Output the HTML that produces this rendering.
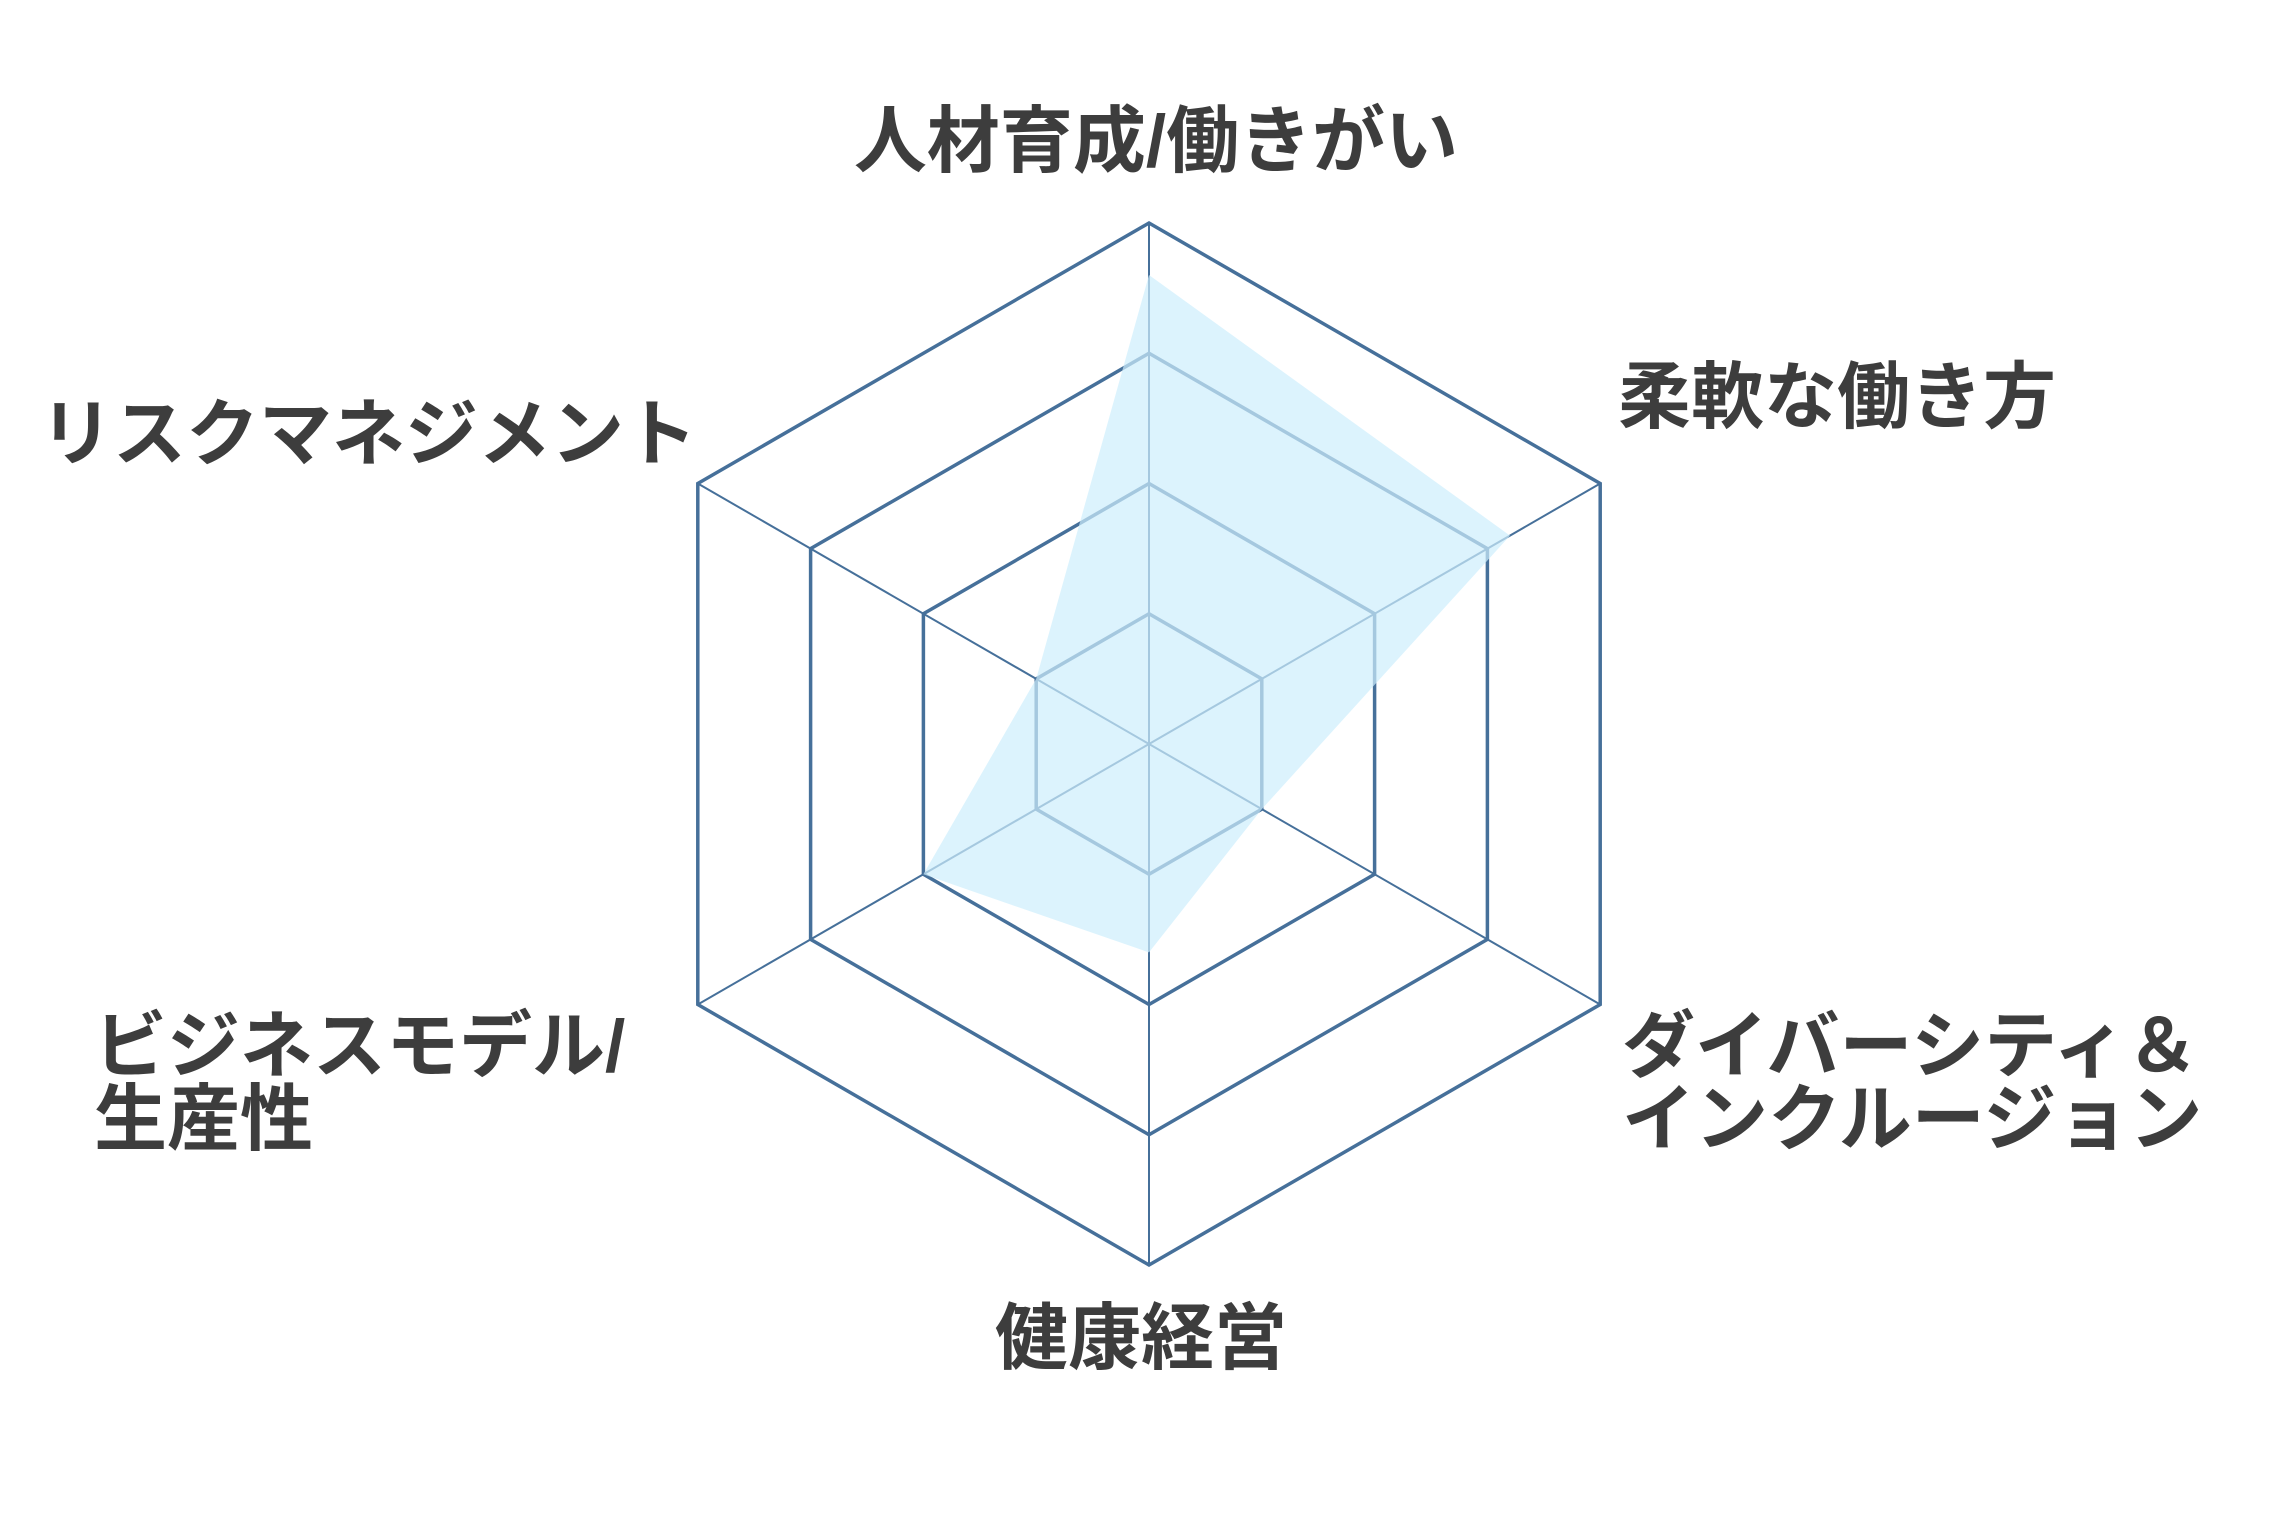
<!DOCTYPE html>
<html><head><meta charset="utf-8"><style>
html,body{margin:0;padding:0;background:#fff;}
body{width:2285px;height:1536px;position:relative;overflow:hidden;}
.t{position:absolute;font-family:"Liberation Sans","Noto Sans CJK JP",sans-serif;font-weight:bold;font-size:73px;line-height:73px;color:#3d3d3d;white-space:nowrap;}
svg{position:absolute;left:0;top:0;}
</style></head><body>
<svg width="2285" height="1536" viewBox="0 0 2285 1536">
<g fill="none" stroke="#46709a" stroke-linejoin="miter">
<polygon stroke-width="3.5" points="1149,223 1600.2,483.5 1600.2,1004.5 1149,1265 697.8,1004.5 697.8,483.5"/>
<polygon stroke-width="3.5" points="1149,353.25 1487.4,548.6 1487.4,939.4 1149,1134.75 810.6,939.4 810.6,548.6"/>
<polygon stroke-width="3.5" points="1149,483.5 1374.6,613.75 1374.6,874.25 1149,1004.5 923.4,874.25 923.4,613.75"/>
<polygon stroke-width="3.5" points="1149,613.75 1261.8,678.9 1261.8,809.1 1149,874.25 1036.2,809.1 1036.2,678.9"/>
<g stroke-width="2">
<line x1="1149" y1="744" x2="1149" y2="223"/>
<line x1="1149" y1="744" x2="1600.2" y2="483.5"/>
<line x1="1149" y1="744" x2="1600.2" y2="1004.5"/>
<line x1="1149" y1="744" x2="1149" y2="1265"/>
<line x1="1149" y1="744" x2="697.8" y2="1004.5"/>
<line x1="1149" y1="744" x2="697.8" y2="483.5"/>
</g>
</g>
<polygon fill="#cdeefc" fill-opacity="0.7" points="1149,275 1510,535.6 1261.8,809.1 1149,952.4 923.4,874.3 1036.2,678.9"/>
</svg>
<div class="t" style="left:830px;top:105px;width:652px;text-align:center;">人材育成/働きがい</div>
<div class="t" style="left:1618px;top:361px;">柔軟な働き方</div>
<div class="t" style="left:40px;top:398px;">リスクマネジメント</div>
<div class="t" style="left:1622px;top:1010px;">ダイバーシティ＆<br>インクルージョン</div>
<div class="t" style="left:94px;top:1010px;">ビジネスモデル/<br>生産性</div>
<div class="t" style="left:995px;top:1302px;">健康経営</div>
</body></html>
